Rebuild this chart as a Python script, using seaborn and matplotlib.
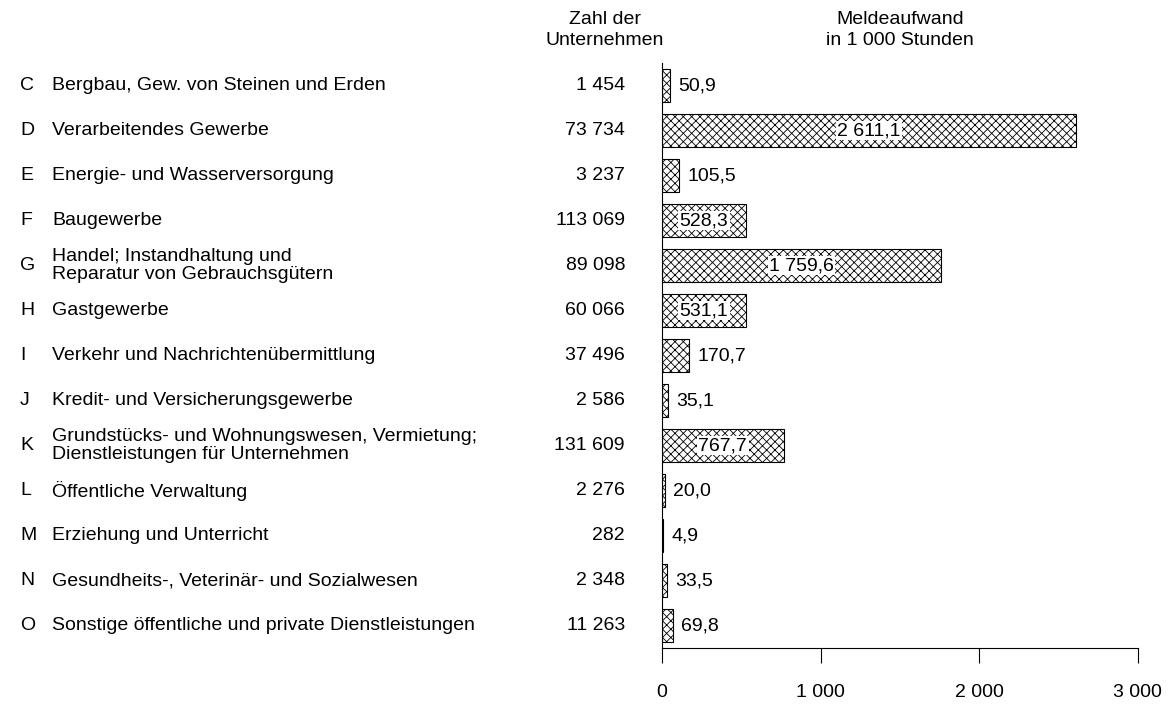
import matplotlib
matplotlib.use("Agg")
import matplotlib.pyplot as plt
import matplotlib.transforms as mtransforms
import pandas as pd
import seaborn as sns

codes = ["C", "D", "E", "F", "G", "H", "I", "J", "K", "L", "M", "N", "O"]
branches = [
    "Bergbau, Gew. von Steinen und Erden",
    "Verarbeitendes Gewerbe",
    "Energie- und Wasserversorgung",
    "Baugewerbe",
    "Handel; Instandhaltung und\nReparatur von Gebrauchsgütern",
    "Gastgewerbe",
    "Verkehr und Nachrichtenübermittlung",
    "Kredit- und Versicherungsgewerbe",
    "Grundstücks- und Wohnungswesen, Vermietung;\nDienstleistungen für Unternehmen",
    "Öffentliche Verwaltung",
    "Erziehung und Unterricht",
    "Gesundheits-, Veterinär- und Sozialwesen",
    "Sonstige öffentliche und private Dienstleistungen",
]
companies = [1454, 73734, 3237, 113069, 89098, 60066, 37496, 2586, 131609,
             2276, 282, 2348, 11263]
hours = [50.9, 2611.1, 105.5, 528.3, 1759.6, 531.1, 170.7, 35.1, 767.7,
         20.0, 4.9, 33.5, 69.8]
x_ticks = [0, 1000, 2000, 3000]


def de_int(v):
    return f"{v:,}".replace(",", " ")


def de_float(v):
    s = f"{v:,.1f}"
    return s.replace(",", " ").replace(".", ",")


def main():
    sns.set_style("white")
    plt.rcParams["font.family"] = ["Liberation Sans", "DejaVu Sans"]
    plt.rcParams["hatch.linewidth"] = 0.6
    plt.rcParams["text.color"] = "black"
    fs = 14

    df = pd.DataFrame({"code": codes, "branch": branches,
                       "companies": companies, "hours": hours})

    fig = plt.figure(figsize=(11.72, 7.04), dpi=100)
    ax = fig.add_axes([0.5648, 0.0795, 0.4061, 0.831])

    sns.barplot(data=df, x="hours", y="code", orient="h", ax=ax,
                color="white", edgecolor="black", linewidth=0.8,
                width=0.75, saturation=1)
    for p in ax.patches:
        p.set_hatch("xxxx")

    ax.set_xlim(0, 3000)
    ax.set_ylim(12.5, -0.5)
    ax.set_xticks(x_ticks)
    ax.set_xticklabels([de_int(t) for t in x_ticks], fontsize=fs)
    ax.tick_params(axis="x", direction="out", length=11, width=0.8,
                   pad=15, colors="black", bottom=True)
    ax.tick_params(axis="y", left=False, labelleft=False)
    ax.set_xlabel("")
    ax.set_ylabel("")
    for side in ["top", "right"]:
        ax.spines[side].set_visible(False)
    for side in ["left", "bottom"]:
        ax.spines[side].set_color("black")
        ax.spines[side].set_linewidth(0.8)

    # value labels: inside with white box for long bars, after the bar otherwise
    for i, v in enumerate(hours):
        if v >= 500:
            ax.text(v / 2, i, de_float(v), ha="center", va="center",
                    fontsize=fs,
                    bbox=dict(facecolor="white", edgecolor="none", pad=1))
        else:
            ax.annotate(de_float(v), xy=(v, i), xytext=(6, 0),
                        textcoords="offset points", ha="left",
                        va="center", fontsize=fs)

    # left side table
    trans = mtransforms.blended_transform_factory(fig.transFigure, ax.transData)
    for i, (c, b, n) in enumerate(zip(codes, branches, companies)):
        ax.text(20 / 1172, i, c, transform=trans, ha="left", va="center",
                fontsize=fs, clip_on=False)
        ax.text(52 / 1172, i, b, transform=trans, ha="left", va="center",
                fontsize=fs, clip_on=False, linespacing=1.1)
        ax.text(625 / 1172, i, de_int(n), transform=trans, ha="right",
                va="center", fontsize=fs, clip_on=False)

    fig.text(605 / 1172, 1 - 30 / 704, "Zahl der\nUnternehmen", ha="center",
             va="center", fontsize=fs, linespacing=1.3)
    fig.text(900 / 1172, 1 - 30 / 704, "Meldeaufwand\nin 1 000 Stunden",
             ha="center", va="center", fontsize=fs, linespacing=1.3)

    fig.savefig("out.png", dpi=100, facecolor="white")


if __name__ == "__main__":
    main()
